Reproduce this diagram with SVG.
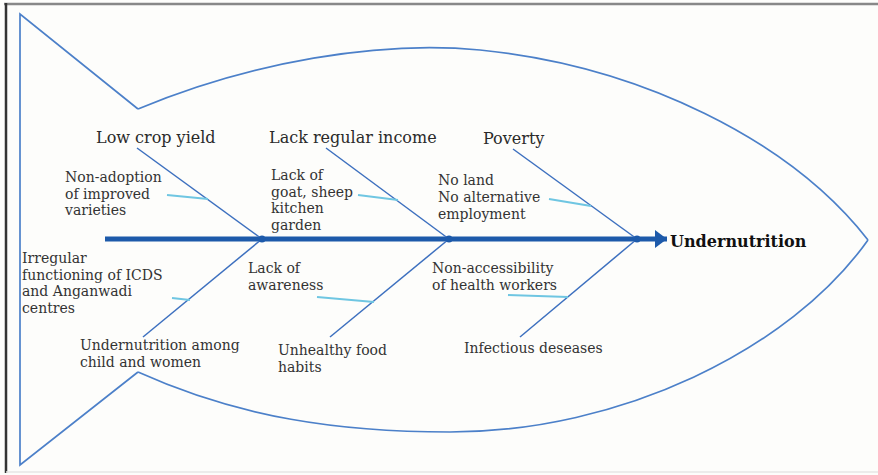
<svg xmlns="http://www.w3.org/2000/svg" width="878" height="475" viewBox="0 0 878 475">
<defs>
<style>
.fish{fill:none;stroke:#4c80c9;stroke-width:1.7;stroke-linejoin:miter}
.rib{fill:none;stroke:#3d70bf;stroke-width:1.5}
.sub{fill:none;stroke:#6fc6e2;stroke-width:2.2}
.spine{fill:none;stroke:#1d5aaa;stroke-width:5}
.h{font-family:"DejaVu Serif","Liberation Serif",serif;font-size:16px;fill:#2a2a2a}
.t{font-family:"DejaVu Serif","Liberation Serif",serif;font-size:14px;fill:#333}
.b{font-family:"DejaVu Serif","Liberation Serif",serif;font-size:16px;font-weight:bold;fill:#111}
</style>
<marker id="arr" viewBox="0 0 12 18" refX="12" refY="9" markerWidth="12" markerHeight="18" markerUnits="userSpaceOnUse" orient="auto">
<path d="M0,0 L12,9 L0,18 Z" fill="#1d5aaa"/>
</marker>
</defs>
<rect x="0" y="0" width="878" height="475" fill="#fdfdfb"/>
<line x1="4" y1="4" x2="878" y2="4" stroke="#888" stroke-width="2.5"/>
<line x1="6" y1="3" x2="6" y2="473" stroke="#333" stroke-width="2.5"/>
<line x1="6" y1="472" x2="878" y2="472" stroke="#e6e6e6" stroke-width="1.5"/>
<g id="fish">
<path class="fish" d="M138,109 L20,14 L20,465 L138,372"/>
<path class="fish" d="M138,109 C250,62 380,40 480,50 C640,66 790,140 868,240"/>
<path class="fish" d="M138,372 C240,418 340,432 450,432 C620,432 790,350 868,240"/>
</g>
<g id="connectors">
<line class="spine" x1="105" y1="239" x2="667" y2="239" marker-end="url(#arr)"/>
<line class="rib" x1="137" y1="148" x2="262" y2="239"/>
<line class="rib" x1="326" y1="148" x2="449" y2="239"/>
<line class="rib" x1="513" y1="149" x2="637" y2="239"/>
<line class="rib" x1="262" y1="239" x2="143" y2="337"/>
<line class="rib" x1="449" y1="239" x2="330" y2="337"/>
<line class="rib" x1="637" y1="239" x2="520" y2="337"/>
<line class="sub" x1="167" y1="195" x2="208" y2="199"/>
<line class="sub" x1="358" y1="195" x2="398" y2="200"/>
<line class="sub" x1="549" y1="199" x2="591" y2="206"/>
<line class="sub" x1="172" y1="298" x2="190" y2="300"/>
<line class="sub" x1="317" y1="297" x2="374" y2="302"/>
<line class="sub" x1="508" y1="295" x2="568" y2="297"/>
<circle cx="262" cy="239" r="3.5" fill="#1d5aaa"/>
<circle cx="449" cy="239" r="3.5" fill="#1d5aaa"/>
<circle cx="637" cy="239" r="3.5" fill="#1d5aaa"/>
</g>
<g id="low-crop-yield"><text class="h" x="96" y="143">Low crop yield</text></g>
<g id="lack-regular-income"><text class="h" x="269" y="143">Lack regular income</text></g>
<g id="poverty"><text class="h" x="483" y="144">Poverty</text></g>
<g id="non-adoption"><text class="t" x="65" y="182">Non-adoption<tspan x="65" dy="16.5">of improved</tspan><tspan x="65" dy="16.5">varieties</tspan></text></g>
<g id="lack-of-goat"><text class="t" x="271" y="180">Lack of<tspan x="271" dy="16.5">goat, sheep</tspan><tspan x="271" dy="16.5">kitchen</tspan><tspan x="271" dy="16.5">garden</tspan></text></g>
<g id="no-land"><text class="t" x="438" y="185">No land<tspan x="438" dy="17">No alternative</tspan><tspan x="438" dy="17">employment</tspan></text></g>
<g id="irregular-icds"><text class="t" x="22" y="263">Irregular<tspan x="22" dy="16.7">functioning of ICDS</tspan><tspan x="22" dy="16.7">and Anganwadi</tspan><tspan x="22" dy="16.7">centres</tspan></text></g>
<g id="lack-of-awareness"><text class="t" x="248" y="273">Lack of<tspan x="248" dy="16.5">awareness</tspan></text></g>
<g id="non-accessibility"><text class="t" x="432" y="273">Non-accessibility<tspan x="432" dy="17">of health workers</tspan></text></g>
<g id="undernutrition-among"><text class="t" x="80" y="350">Undernutrition among<tspan x="80" dy="16.5">child and women</tspan></text></g>
<g id="unhealthy-food"><text class="t" x="278" y="355">Unhealthy food<tspan x="278" dy="17">habits</tspan></text></g>
<g id="infectious"><text class="t" x="464" y="353">Infectious deseases</text></g>
<g id="undernutrition"><text class="b" x="670" y="247">Undernutrition</text></g>
</svg>
